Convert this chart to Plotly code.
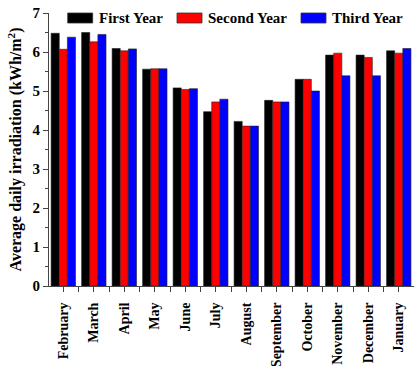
import plotly.graph_objects as go

months = ["February", "March", "April", "May", "June", "July", "August",
          "September", "October", "November", "December", "January"]
first_year = [6.48, 6.50, 6.09, 5.56, 5.08, 4.47, 4.22, 4.76, 5.30, 5.92, 5.92, 6.03]
second_year = [6.07, 6.26, 6.03, 5.57, 5.04, 4.72, 4.10, 4.72, 5.30, 5.97, 5.86, 5.97]
third_year = [6.38, 6.45, 6.08, 5.57, 5.06, 4.79, 4.10, 4.72, 5.00, 5.39, 5.39, 6.09]

series = [("First Year", first_year, "#000000"),
          ("Second Year", second_year, "#ff0000"),
          ("Third Year", third_year, "#0000ff")]

font_family = "Liberation Serif, Times New Roman, serif"
x_idx = list(range(len(months)))

W, H = 414, 366
M_L, M_R, M_T, M_B = 49, 0, 13, 80
plot_w = W - M_L - M_R
plot_h = H - M_T - M_B


def px_to_paper_x(px):
    return (px - M_L) / plot_w


def px_to_paper_y(py):
    return (H - M_B - py) / plot_h


fig = go.Figure()
for name, vals, col in series:
    fig.add_trace(go.Bar(
        x=x_idx, y=vals, name=name, showlegend=False,
        marker=dict(color=col, line=dict(color="#222222", width=0.6)),
    ))

# Legend drawn as wide swatches with labels along the top of the plot
legend_pos = [(67.7, 96.5), (177.0, 205.5), (301.0, 330.0)]
shapes, annotations = [], []
for (name, _, col), (sx, tx) in zip(series, legend_pos):
    shapes.append(dict(
        type="rect", xref="paper", yref="paper",
        x0=px_to_paper_x(sx), x1=px_to_paper_x(sx + 25),
        y0=px_to_paper_y(23), y1=px_to_paper_y(13),
        fillcolor=col, line=dict(color="#333333", width=0.8),
    ))
    annotations.append(dict(
        text=name, xref="paper", yref="paper",
        x=px_to_paper_x(tx), y=px_to_paper_y(18),
        xanchor="left", yanchor="middle", showarrow=False,
        font=dict(family=font_family, size=15, color="black", weight="bold"),
    ))

fig.update_layout(
    width=W, height=H,
    margin=dict(l=M_L, r=M_R, t=M_T, b=M_B),
    paper_bgcolor="white", plot_bgcolor="white",
    barmode="group", bargap=0.2, bargroupgap=0,
    font=dict(family=font_family, size=14, color="black"),
    shapes=shapes, annotations=annotations,
    xaxis=dict(
        range=[-0.47, 11.5], automargin=False,
        tickmode="array", tickvals=x_idx, ticktext=months,
        tickangle=-90, ticklabelstandoff=5,
        tickfont=dict(family=font_family, size=14, color="black", weight="bold"),
        showline=True, linecolor="#444444", linewidth=1,
        ticks="outside", ticklen=5, tickcolor="#444444",
        minor=dict(tick0=0.5, dtick=1, ticks="outside", ticklen=5, tickcolor="#444444"),
        showgrid=False, zeroline=False,
    ),
    yaxis=dict(
        range=[0, 7], dtick=1, automargin=False,
        tickfont=dict(family=font_family, size=15, color="black", weight="bold"),
        showline=True, linecolor="#444444", linewidth=1,
        ticks="outside", ticklen=5, tickcolor="#444444",
        minor=dict(dtick=0.5, ticks="outside", ticklen=3, tickcolor="#444444"),
        showgrid=False, zeroline=False,
        title=dict(text="Average daily irradiation (kWh/m<sup>2</sup>)",
                   font=dict(family=font_family, size=16, color="black", weight="bold"),
                   standoff=6),
    ),
)

fig.write_html("out.html")
